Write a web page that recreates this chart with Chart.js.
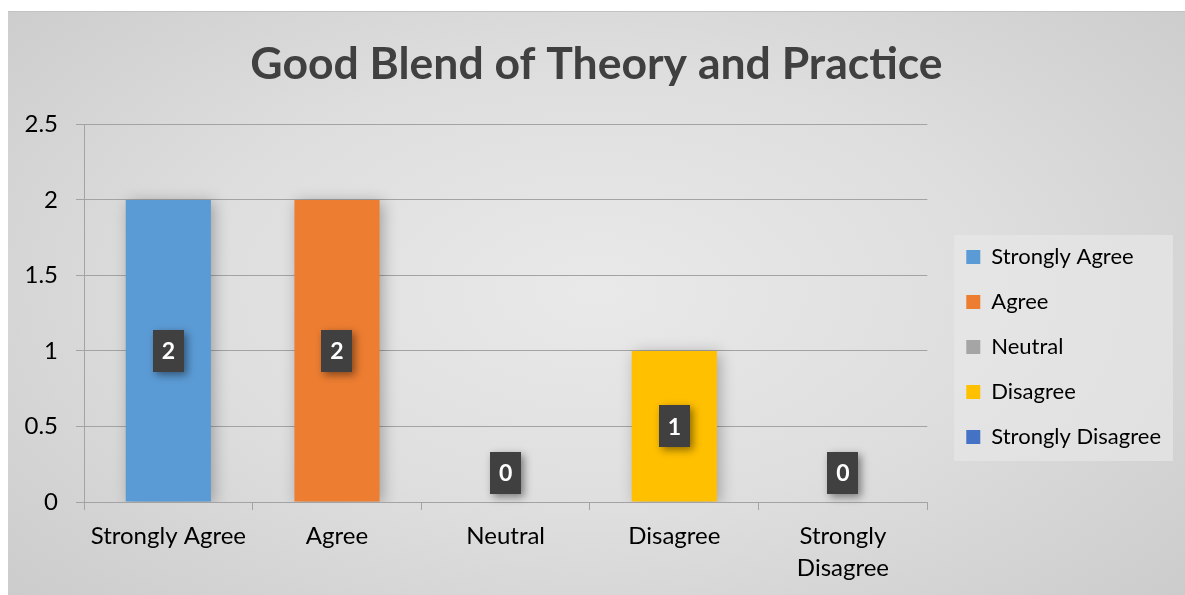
<!DOCTYPE html>
<html><head><meta charset="utf-8">
<script src="https://cdn.jsdelivr.net/npm/chart.js@4"></script>
<style>
html,body{margin:0;padding:0;background:#fff;}
#wrap{position:absolute;left:8px;top:11px;width:1177px;height:583px;border-top:1px solid #c3c3c3;
background: radial-gradient(ellipse 75% 85% at 50% 48%, #e9e9e9 0%, #dedede 45%, #c8c8c8 100%);}
canvas{display:block}
</style></head><body>
<div id="wrap"><canvas id="c" width="1177" height="583"></canvas></div>
<script>
const titleText = 'Good Blend of Theory and Practice';
const categories = ['Strongly Agree', 'Agree', 'Neutral', 'Disagree', 'Strongly Disagree'];
const tickLabels = ['Strongly Agree', 'Agree', 'Neutral', 'Disagree', ['Strongly', 'Disagree']];
const values = [2, 2, 0, 1, 0];
const colors = ['#5B9BD5', '#ED7D31', '#A5A5A5', '#FFC000', '#4472C4'];
const yTicks = [0, 0.5, 1, 1.5, 2, 2.5];

const FONT = 'Lato, "Open Sans", sans-serif';
const gridColor = '#a3a3a3';

const shadowPlugin = {
  id: 'barShadow',
  beforeDatasetDraw(chart) {
    const ctx = chart.ctx;
    ctx.save();
    ctx.shadowColor = 'rgba(0,0,0,0.28)';
    ctx.shadowBlur = 14;
    ctx.shadowOffsetX = 3;
    ctx.shadowOffsetY = 2;
  },
  afterDatasetDraw(chart) { chart.ctx.restore(); }
};

const layoutPlugin = {
  id: 'legendBox',
  afterLayout(chart) {
    const tb = chart.titleBlock;
    if (tb) { tb.left = 0; tb.right = chart.width; }
    const lg = chart.legend;
    const w = lg.right - lg.left;
    const newLeft = chart.chartArea.right + 16;
    lg.left = newLeft; lg.right = newLeft + w;
    const h = lg.bottom - lg.top;
    lg.top = 211; lg.bottom = 211 + h;
  },
  beforeDraw(chart) {
    const lg = chart.legend;
    const hb = lg.legendHitBoxes;
    if (!hb || !hb.length) return;
    let l = Infinity, t = Infinity, r = -Infinity, b = -Infinity;
    hb.forEach(h => { l = Math.min(l, h.left); t = Math.min(t, h.top); r = Math.max(r, h.left + h.width); b = Math.max(b, h.top + h.height); });
    const ctx = chart.ctx;
    ctx.save();
    ctx.fillStyle = 'rgba(232,232,232,0.65)';
    ctx.fillRect(l - 12, t - 11, (r - l) + 24, (b - t) + 24);
    ctx.restore();
  }
};

const labelPlugin = {
  id: 'valueBoxes',
  afterDatasetsDraw(chart) {
    const ctx = chart.ctx;
    const meta = chart.getDatasetMeta(0);
    const yScale = chart.scales.y;
    const base = yScale.getPixelForValue(0);
    meta.data.forEach((bar, i) => {
      const v = values[i];
      const mid = (bar.y + base) / 2;
      const cy = Math.min(mid, base - 29);
      const cx = bar.x;
      const w = 31, h = 42;
      ctx.save();
      ctx.shadowColor = 'rgba(0,0,0,0.45)';
      ctx.shadowBlur = 8;
      ctx.shadowOffsetX = 3;
      ctx.shadowOffsetY = 3;
      ctx.fillStyle = '#404040';
      ctx.fillRect(Math.round(cx - w / 2), Math.round(cy - h / 2), w, h);
      ctx.restore();
      ctx.save();
      ctx.fillStyle = '#ffffff';
      ctx.font = 'bold 23px ' + FONT;
      ctx.textAlign = 'center';
      ctx.textBaseline = 'middle';
      ctx.fillText(String(v), cx, cy + 1);
      ctx.restore();
    });
  }
};

new Chart(document.getElementById('c'), {
  type: 'bar',
  data: {
    labels: tickLabels,
    datasets: [{
      label: titleText,
      data: values,
      backgroundColor: colors,
      borderWidth: 0,
      barPercentage: 0.505,
      categoryPercentage: 1.0
    }]
  },
  options: {
    responsive: false,
    animation: false,
    devicePixelRatio: 1,
    layout: { padding: { left: 0, right: 30, top: 0, bottom: 0 } },
    plugins: {
      title: {
        display: true,
        text: titleText,
        color: '#404040',
        font: { family: FONT, size: 44.5, weight: 'bold', lineHeight: 1.2 },
        padding: { top: 26, bottom: 33 }
      },
      legend: {
        display: true,
        position: 'right',
        align: 'start',
        labels: {
          boxWidth: 14,
          boxHeight: 14,
          padding: 23,
          color: '#404040',
          font: { family: FONT, size: 22 },
          generateLabels() {
            return categories.map((c, i) => ({
              text: c,
              fillStyle: colors[i],
              strokeStyle: colors[i],
              lineWidth: 0,
              hidden: false,
              index: i,
              datasetIndex: 0
            }));
          }
        },
        onClick() {}
      },
      tooltip: { enabled: false }
    },
    scales: {
      x: {
        offset: true,
        grid: { display: true, drawOnChartArea: false, drawTicks: true, tickLength: 8, color: gridColor, offset: true },
        border: { display: true, color: gridColor },
        ticks: { color: '#000000', font: { family: FONT, size: 24, lineHeight: 1.3 }, padding: 11, maxRotation: 0, autoSkip: false },
        afterFit(s) { s.height = 93; }
      },
      y: {
        min: 0, max: 2.5,
        afterBuildTicks(s) { s.ticks = yTicks.map(v => ({ value: v })); },
        grid: { color: gridColor, tickLength: 8, drawTicks: true },
        border: { display: true, color: gridColor },
        ticks: { color: '#000000', font: { family: FONT, size: 24 }, padding: 18, callback: v => String(v) },
        afterFit(s) { s.width = 76; }
      }
    }
  },
  plugins: [shadowPlugin, layoutPlugin, labelPlugin]
});
</script>
</body></html>
